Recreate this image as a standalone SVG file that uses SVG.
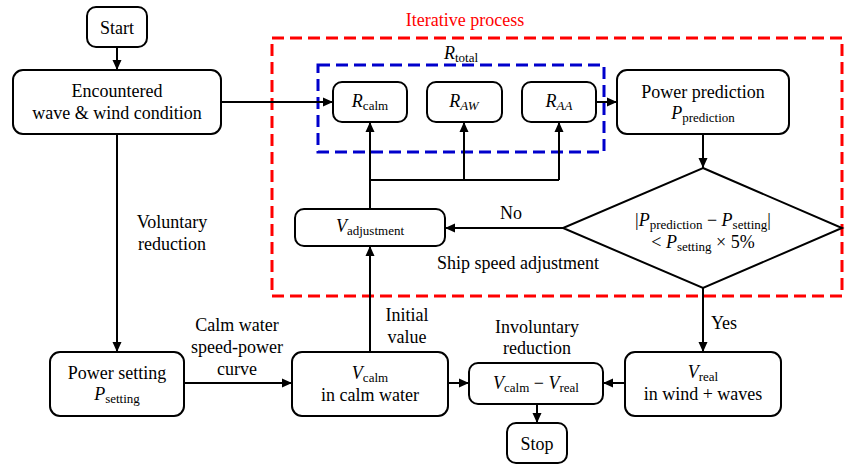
<svg xmlns="http://www.w3.org/2000/svg" width="846" height="465" viewBox="0 0 846 465">
<style>
.box{fill:#fff;stroke:#000;stroke-width:2}
.t{font-family:"Liberation Serif","Times New Roman",serif;font-size:18px;fill:#000;text-anchor:middle}
.i{font-style:italic}
.s{font-size:13px}
.c{fill:none;stroke:#000;stroke-width:2}
</style>
<defs>
<marker id="ah" viewBox="0 0 10 10" refX="10" refY="5" markerWidth="10" markerHeight="10" markerUnits="userSpaceOnUse" orient="auto">
<path d="M0,0.5 L10,5 L0,9.5 z" fill="#000"/>
</marker>
</defs>
<rect x="0" y="0" width="846" height="465" fill="#fff"/>
<g id="iterative">
<rect x="272" y="38" width="570" height="258" fill="none" stroke="#ff0000" stroke-width="3" stroke-dasharray="12 6"/>
<text class="t" x="465" y="26" fill="#ff0000" style="fill:#ff0000">Iterative process</text>
</g>
<g id="rtotal">
<rect x="318" y="65" width="286" height="87" fill="none" stroke="#0000cc" stroke-width="3" stroke-dasharray="12 6"/>
<text class="t" x="461" y="59"><tspan class="i">R</tspan><tspan class="s" dy="3">total</tspan></text>
</g>
<g id="connectors">
<line class="c" x1="117" y1="47" x2="117" y2="70" marker-end="url(#ah)"/>
<line class="c" x1="221" y1="102" x2="333" y2="102" marker-end="url(#ah)"/>
<line class="c" x1="596" y1="102" x2="617" y2="102" marker-end="url(#ah)"/>
<line class="c" x1="703" y1="134" x2="703" y2="168" marker-end="url(#ah)"/>
<polyline class="c" points="370,209 370,180 559,180"/>
<line class="c" x1="370" y1="180" x2="370" y2="122" marker-end="url(#ah)"/>
<line class="c" x1="464" y1="180" x2="464" y2="122" marker-end="url(#ah)"/>
<line class="c" x1="559" y1="180" x2="559" y2="122" marker-end="url(#ah)"/>
<line class="c" x1="563" y1="228" x2="445" y2="228" marker-end="url(#ah)"/>
<line class="c" x1="370" y1="352" x2="370" y2="246" marker-end="url(#ah)"/>
<line class="c" x1="117" y1="134" x2="117" y2="352" marker-end="url(#ah)"/>
<line class="c" x1="184" y1="383" x2="292" y2="383" marker-end="url(#ah)"/>
<line class="c" x1="448" y1="383" x2="469" y2="383" marker-end="url(#ah)"/>
<line class="c" x1="625" y1="383" x2="603" y2="383" marker-end="url(#ah)"/>
<line class="c" x1="537" y1="404" x2="537" y2="423" marker-end="url(#ah)"/>
<line class="c" x1="703" y1="288" x2="703" y2="352" marker-end="url(#ah)"/>
<text class="t" x="511" y="219">No</text>
<text class="t" x="518" y="269">Ship speed adjustment</text>
<text class="t" x="172" y="228">Voluntary</text>
<text class="t" x="172" y="250">reduction</text>
<text class="t" x="237" y="331">Calm water</text>
<text class="t" x="237" y="353">speed-power</text>
<text class="t" x="237" y="375">curve</text>
<text class="t" x="407" y="321">Initial</text>
<text class="t" x="407" y="343">value</text>
<text class="t" x="537" y="333">Involuntary</text>
<text class="t" x="537" y="354">reduction</text>
<text class="t" x="724" y="329">Yes</text>
</g>
<g id="start">
<rect class="box" x="87" y="7" width="60" height="40" rx="9"/>
<text class="t" x="117" y="34">Start</text>
</g>
<g id="encountered">
<rect class="box" x="13" y="70" width="208" height="64" rx="10"/>
<text class="t" x="117" y="97">Encountered</text>
<text class="t" x="117" y="119">wave &amp; wind condition</text>
</g>
<g id="rcalm">
<rect class="box" x="333" y="82" width="74" height="40" rx="9"/>
<text class="t" x="370" y="107"><tspan class="i">R</tspan><tspan class="s" dy="3">calm</tspan></text>
</g>
<g id="raw">
<rect class="box" x="427" y="82" width="75" height="40" rx="9"/>
<text class="t" x="464" y="107"><tspan class="i">R</tspan><tspan class="s i" dy="3">AW</tspan></text>
</g>
<g id="raa">
<rect class="box" x="522" y="82" width="74" height="40" rx="9"/>
<text class="t" x="559" y="107"><tspan class="i">R</tspan><tspan class="s i" dy="3">AA</tspan></text>
</g>
<g id="power-prediction">
<rect class="box" x="617" y="70" width="172" height="64" rx="10"/>
<text class="t" x="703" y="98">Power prediction</text>
<text class="t" x="703" y="119"><tspan class="i">P</tspan><tspan class="s" dy="3">prediction</tspan></text>
</g>
<g id="decision">
<polygon class="box" points="703,168 842,228 703,288 563,228"/>
<text class="t" x="703" y="226">|<tspan class="i">P</tspan><tspan class="s" dy="3">prediction</tspan><tspan dy="-3"> − </tspan><tspan class="i">P</tspan><tspan class="s" dy="3">setting</tspan><tspan dy="-3">|</tspan></text>
<text class="t" x="703" y="248">&lt; <tspan class="i">P</tspan><tspan class="s" dy="3">setting</tspan><tspan dy="-3"> × 5%</tspan></text>
</g>
<g id="vadjustment">
<rect class="box" x="295" y="209" width="150" height="37" rx="9"/>
<text class="t" x="370" y="232"><tspan class="i">V</tspan><tspan class="s" dy="3">adjustment</tspan></text>
</g>
<g id="power-setting">
<rect class="box" x="50" y="352" width="134" height="64" rx="10"/>
<text class="t" x="117" y="379">Power setting</text>
<text class="t" x="117" y="400"><tspan class="i">P</tspan><tspan class="s" dy="3">setting</tspan></text>
</g>
<g id="vcalm">
<rect class="box" x="292" y="352" width="156" height="64" rx="10"/>
<text class="t" x="370" y="379"><tspan class="i">V</tspan><tspan class="s" dy="3">calm</tspan></text>
<text class="t" x="370" y="401">in calm water</text>
</g>
<g id="vdiff">
<rect class="box" x="469" y="363" width="134" height="41" rx="9"/>
<text class="t" x="536" y="389"><tspan class="i">V</tspan><tspan class="s" dy="3">calm</tspan><tspan dy="-3"> − </tspan><tspan class="i">V</tspan><tspan class="s" dy="3">real</tspan></text>
</g>
<g id="stop">
<rect class="box" x="507" y="423" width="60" height="40" rx="9"/>
<text class="t" x="537" y="450">Stop</text>
</g>
<g id="vreal">
<rect class="box" x="625" y="352" width="156" height="64" rx="10"/>
<text class="t" x="703" y="378"><tspan class="i">V</tspan><tspan class="s" dy="3">real</tspan></text>
<text class="t" x="703" y="400">in wind + waves</text>
</g>
</svg>
